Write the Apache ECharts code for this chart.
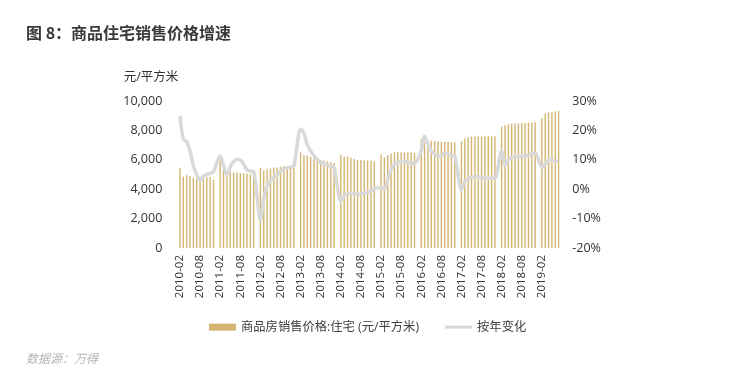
<!DOCTYPE html>
<html>
<head>
<meta charset="utf-8">
<script src="https://cdn.jsdelivr.net/npm/echarts@6/dist/echarts.min.js"></script>
<style>
html,body{margin:0;padding:0;background:#fff;}
#c{width:739px;height:373px;}
</style>
</head>
<body>
<div id="c"></div>
<script>
// ---- data ----
const years = [2010, 2011, 2012, 2013, 2014, 2015, 2016, 2017, 2018, 2019];
const xTickLabels = ['2010-02','2010-08','2011-02','2011-08','2012-02','2012-08','2013-02','2013-08','2014-02','2014-08','2015-02','2015-08','2016-02','2016-08','2017-02','2017-08','2018-02','2018-08','2019-02'];
// 商品房销售价格:住宅 (元/平方米), Feb..Dec each year (2019: Feb..Jul)
const price2010 = [5450, 4850, 4950, 4900, 4770, 4690, 4740, 4790, 4820, 4830, 4650];
const price2011 = [5950, 5350, 5050, 5150, 5150, 5140, 5100, 5090, 5070, 5040, 5000];
const price2012 = [5450, 5250, 5350, 5420, 5460, 5500, 5530, 5560, 5560, 5530, 5480];
const price2013 = [6500, 6330, 6280, 6220, 6100, 6020, 6000, 5950, 5900, 5830, 5780];
const price2014 = [6350, 6200, 6250, 6150, 6050, 6000, 5980, 5960, 5950, 5930, 5900];
const price2015 = [6380, 6180, 6320, 6430, 6500, 6550, 6520, 6500, 6500, 6490, 6470];
const price2016 = [7400, 7230, 7300, 7300, 7280, 7250, 7240, 7230, 7220, 7210, 7200];
const price2017 = [7250, 7450, 7550, 7580, 7580, 7580, 7590, 7590, 7600, 7600, 7610];
const price2018 = [8250, 8350, 8420, 8460, 8480, 8480, 8500, 8500, 8520, 8530, 8560];
const price2019 = [8850, 9150, 9220, 9260, 9300, 9340];
// 按年变化 (%)
const yoy2010 = [25, 17, 16.2, 13, 8, 5, 3, 4.5, 5, 5.4, 6];
const yoy2011 = [11.3, 8, 4.8, 7.5, 9.4, 10.2, 10, 8.5, 6.5, 6.2, 6];
const yoy2012 = [-10.5, -3, 1, 3, 4, 5, 6, 7, 7.3, 7.5, 8];
const yoy2013 = [20.5, 19, 15, 13, 11.5, 10, 9, 8.5, 8.2, 7.8, 7.4];
const yoy2014 = [-4.2, -2, -1.5, -1.4, -1.5, -1.7, -1.6, -1.4, -1, -0.5, 0.3];
const yoy2015 = [0.5, 0, 3.5, 6.5, 8.5, 9.2, 9.4, 9.4, 9.2, 9, 8.8];
const yoy2016 = [13, 18, 15.5, 13, 12, 11, 11.5, 12.2, 12, 11.6, 11.3];
const yoy2017 = [0, 2.6, 3.5, 4, 4.3, 4.2, 4, 3.7, 3.7, 3.7, 3.7];
const yoy2018 = [13, 8.2, 10, 10.8, 11, 11.1, 11.2, 11.3, 11.5, 12, 12.4];
const yoy2019 = [7.5, 8.5, 9.9, 10.2, 9.4, 9.5];

const priceByYear = [price2010, price2011, price2012, price2013, price2014, price2015, price2016, price2017, price2018, price2019];
const yoyByYear = [yoy2010, yoy2011, yoy2012, yoy2013, yoy2014, yoy2015, yoy2016, yoy2017, yoy2018, yoy2019];

// build monthly categories (January has no data -> empty slot)
const categories = [], priceData = [], yoyData = [];
years.forEach((y, i) => {
  if (i > 0) { categories.push(y + '-01'); priceData.push('-'); yoyData.push(null); }
  priceByYear[i].forEach((v, k) => {
    const m = k + 2;
    categories.push(y + '-' + (m < 10 ? '0' + m : '' + m));
    priceData.push(v);
    yoyData.push(yoyByYear[i][k]);
  });
});

const FONT = '"Open Sans","Noto Sans CJK SC",sans-serif';
const chart = echarts.init(document.getElementById('c'), null, {renderer: 'canvas'});
chart.setOption({
  animation: false,
  backgroundColor: '#fff',
  textStyle: {fontFamily: FONT},
  graphic: [
    {type: 'text', left: 26, top: 25, style: {text: '图 8：商品住宅销售价格增速', font: 'bold 16px "Noto Sans CJK SC",sans-serif', fill: '#3a3a3a'}},
    {type: 'text', left: 26, top: 352, style: {text: '数据源：万得', font: 'italic 12px "Noto Sans CJK SC",sans-serif', fill: '#b4b4b4'}}
  ],
  legend: {
    left: 209, top: 321, padding: 0,
    itemWidth: 27, itemHeight: 7, itemGap: 26,
    textStyle: {fontFamily: FONT, fontSize: 12.3, color: '#404040'},
    data: [
      {name: '商品房销售价格:住宅 (元/平方米)', icon: 'rect'},
      {name: '按年变化', icon: 'path://M0,0 L27,0 L27,3 L0,3 Z'}
    ]
  },
  grid: {left: 178.3, right: 178.7, top: 101, bottom: 125, containLabel: false},
  xAxis: {
    type: 'category',
    data: categories,
    axisLine: {show: false},
    axisTick: {show: false},
    axisLabel: {
      rotate: 90, fontSize: 11.5, color: '#333', margin: 7, fontFamily: FONT,
      interval: function (idx, val) { return xTickLabels.indexOf(val) >= 0; }
    }
  },
  yAxis: [
    {
      type: 'value', min: 0, max: 10000, interval: 2000,
      name: '元/平方米', nameLocation: 'end', nameGap: 17,
      nameTextStyle: {align: 'right', fontSize: 12.5, color: '#333', fontFamily: FONT, padding: [0, 0, 0, 0]},
      axisLine: {show: false}, axisTick: {show: false}, splitLine: {show: false},
      axisLabel: {fontSize: 12.5, color: '#333', margin: 16, fontFamily: FONT,
        formatter: v => v.toLocaleString('en-US')}
    },
    {
      type: 'value', min: -20, max: 30, interval: 10,
      axisLine: {show: false}, axisTick: {show: false}, splitLine: {show: false},
      axisLabel: {fontSize: 12.5, color: '#333', margin: 12, fontFamily: FONT, formatter: '{value}%'}
    }
  ],
  series: [
    {
      name: '商品房销售价格:住宅 (元/平方米)', type: 'bar', data: priceData,
      barWidth: 1.4, itemStyle: {color: '#d6b572'}, yAxisIndex: 0
    },
    {
      name: '按年变化', type: 'line', data: yoyData, yAxisIndex: 1,
      connectNulls: true, smooth: 0.3, showSymbol: false, symbol: 'none',
      lineStyle: {color: '#d9d9d9', width: 3.5}, itemStyle: {color: '#d9d9d9'}
    }
  ]
});
</script>
</body>
</html>
